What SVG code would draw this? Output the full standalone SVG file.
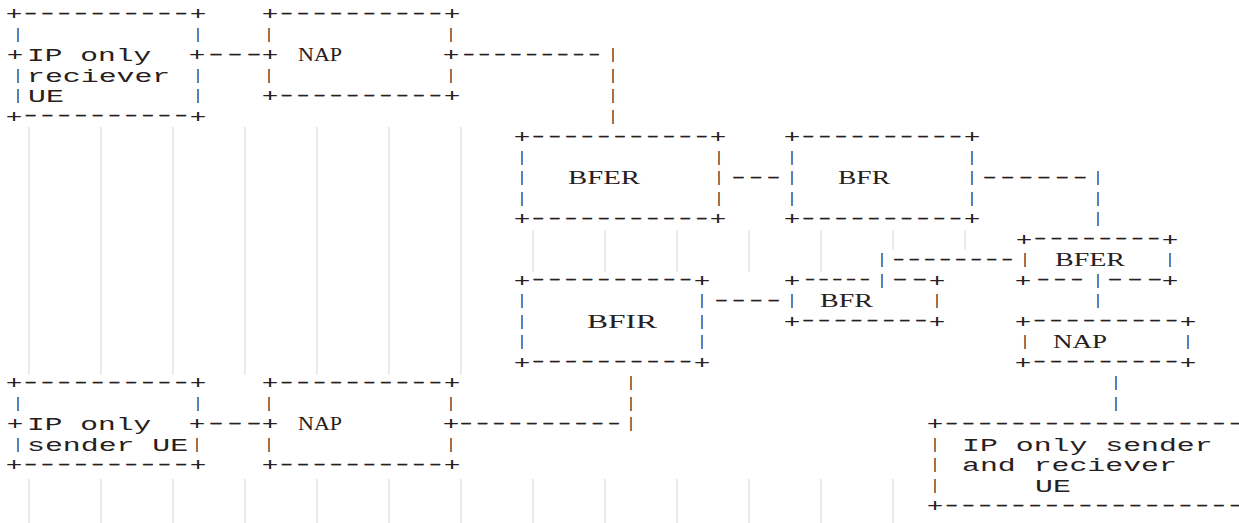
<svg xmlns="http://www.w3.org/2000/svg" width="1239" height="523" viewBox="0 0 1239 523">
  <style>
    .m { font-family: "Liberation Mono", "Courier New", monospace; font-size: 19px; fill: #272020; }
    .d { font-family: "Liberation Sans", Arial, sans-serif; font-size: 15px; letter-spacing: 1.8px; fill: #272020; stroke: #272020; stroke-width: 0.4; }
    .v { font-family: "Liberation Mono", "Courier New", monospace; font-size: 14px; fill: #272020; text-anchor: middle; }
    .s { font-family: "Liberation Serif", "Times New Roman", serif; font-size: 18px; fill: #272020; }
    .rule { stroke: #e4e4e4; stroke-width: 1.5; }
  </style>
  <rect width="1239" height="523" fill="#ffffff"/>

  <!-- faint column rules behind the drawing -->
  <g id="rules" class="rule">
    <line x1="29" y1="127" x2="29" y2="375"/>
    <line x1="101" y1="127" x2="101" y2="375"/>
    <line x1="173" y1="127" x2="173" y2="375"/>
    <line x1="245" y1="127" x2="245" y2="375"/>
    <line x1="317" y1="127" x2="317" y2="375"/>
    <line x1="389" y1="127" x2="389" y2="375"/>
    <line x1="461" y1="127" x2="461" y2="375"/>
    <line x1="533" y1="230" x2="533" y2="272"/>
    <line x1="605" y1="230" x2="605" y2="272"/>
    <line x1="677" y1="230" x2="677" y2="272"/>
    <line x1="749" y1="230" x2="749" y2="272"/>
    <line x1="821" y1="230" x2="821" y2="272"/>
    <line x1="893" y1="230" x2="893" y2="250"/>
    <line x1="965" y1="230" x2="965" y2="250"/>
    <line x1="29" y1="479" x2="29" y2="523"/>
    <line x1="101" y1="479" x2="101" y2="523"/>
    <line x1="173" y1="479" x2="173" y2="523"/>
    <line x1="245" y1="479" x2="245" y2="523"/>
    <line x1="317" y1="479" x2="317" y2="523"/>
    <line x1="389" y1="479" x2="389" y2="523"/>
    <line x1="461" y1="479" x2="461" y2="523"/>
    <line x1="533" y1="479" x2="533" y2="523"/>
    <line x1="605" y1="479" x2="605" y2="523"/>
    <line x1="677" y1="479" x2="677" y2="523"/>
    <line x1="749" y1="479" x2="749" y2="523"/>
    <line x1="821" y1="479" x2="821" y2="523"/>
    <line x1="893" y1="479" x2="893" y2="523"/>
  </g>

  <!-- IP only receiver UE -->
  <g id="ue-receiver">
    <text class="m" x="5.7" y="20" textLength="16.6" lengthAdjust="spacingAndGlyphs">+</text>
    <text class="d" x="24.57" y="17.9" textLength="167.27" lengthAdjust="spacingAndGlyphs">----------</text>
    <text class="m" x="189.7" y="20" textLength="16.6" lengthAdjust="spacingAndGlyphs">+</text>
    <text class="v" x="18" y="38.5">|</text><text class="v" x="198" y="38.5">|</text>
    <text class="m" x="6.7" y="61" textLength="16.6" lengthAdjust="spacingAndGlyphs">+</text>
    <text class="m" x="27.1" y="61" textLength="124.3" lengthAdjust="spacingAndGlyphs">IP only</text>
    <text class="m" x="188.7" y="61" textLength="16.6" lengthAdjust="spacingAndGlyphs">+</text>
    <text class="v" x="18" y="79.5">|</text>
    <text class="m" x="27.05" y="81.5" textLength="143.2" lengthAdjust="spacingAndGlyphs">reciever</text>
    <text class="v" x="198" y="79.5">|</text>
    <text class="v" x="18" y="100">|</text>
    <text class="m" x="28.05" y="102" textLength="35.8" lengthAdjust="spacingAndGlyphs">UE</text>
    <text class="v" x="198" y="100">|</text>
    <text class="m" x="5.7" y="122.5" textLength="16.6" lengthAdjust="spacingAndGlyphs">+</text>
    <text class="d" x="24.57" y="120.4" textLength="167.27" lengthAdjust="spacingAndGlyphs">----------</text>
    <text class="m" x="189.7" y="122.5" textLength="16.6" lengthAdjust="spacingAndGlyphs">+</text>
  </g>

  <!-- NAP serving the receiver -->
  <g id="nap-receiver">
    <text class="m" x="261.7" y="20" textLength="16.6" lengthAdjust="spacingAndGlyphs">+</text>
    <text class="d" x="280.46" y="17.9" textLength="165.45" lengthAdjust="spacingAndGlyphs">----------</text>
    <text class="m" x="443.7" y="20" textLength="16.6" lengthAdjust="spacingAndGlyphs">+</text>
    <text class="v" x="269" y="38.5">|</text><text class="v" x="451" y="38.5">|</text>
    <text class="m" x="261.7" y="61" textLength="16.6" lengthAdjust="spacingAndGlyphs">+</text>
    <text class="s" x="298" y="61" textLength="44" lengthAdjust="spacingAndGlyphs">NAP</text>
    <text class="m" x="442.7" y="61" textLength="16.6" lengthAdjust="spacingAndGlyphs">+</text>
    <text class="v" x="269" y="79.5">|</text><text class="v" x="451" y="79.5">|</text>
    <text class="m" x="261.7" y="102" textLength="16.6" lengthAdjust="spacingAndGlyphs">+</text>
    <text class="d" x="280.46" y="99.9" textLength="165.45" lengthAdjust="spacingAndGlyphs">----------</text>
    <text class="m" x="443.7" y="102" textLength="16.6" lengthAdjust="spacingAndGlyphs">+</text>
  </g>

  <!-- BFER (upper) -->
  <g id="bfer-upper">
    <text class="m" x="513.7" y="143" textLength="16.6" lengthAdjust="spacingAndGlyphs">+</text>
    <text class="d" x="532.33" y="140.9" textLength="179.67" lengthAdjust="spacingAndGlyphs">-----------</text>
    <text class="m" x="709.7" y="143" textLength="16.6" lengthAdjust="spacingAndGlyphs">+</text>
    <text class="v" x="522" y="161.5">|</text><text class="v" x="719" y="161.5">|</text>
    <text class="v" x="522" y="182">|</text>
    <text class="s" x="568" y="184" textLength="72" lengthAdjust="spacingAndGlyphs">BFER</text>
    <text class="v" x="719" y="182">|</text>
    <text class="v" x="522" y="202.5">|</text><text class="v" x="719" y="202.5">|</text>
    <text class="m" x="513.7" y="225" textLength="16.6" lengthAdjust="spacingAndGlyphs">+</text>
    <text class="d" x="532.33" y="222.9" textLength="179.67" lengthAdjust="spacingAndGlyphs">-----------</text>
    <text class="m" x="709.7" y="225" textLength="16.6" lengthAdjust="spacingAndGlyphs">+</text>
  </g>

  <!-- BFR (upper) -->
  <g id="bfr-upper">
    <text class="m" x="783.7" y="143" textLength="16.6" lengthAdjust="spacingAndGlyphs">+</text>
    <text class="d" x="802.35" y="140.9" textLength="163.64" lengthAdjust="spacingAndGlyphs">----------</text>
    <text class="m" x="963.7" y="143" textLength="16.6" lengthAdjust="spacingAndGlyphs">+</text>
    <text class="v" x="792" y="161.5">|</text><text class="v" x="972" y="161.5">|</text>
    <text class="v" x="792" y="182">|</text>
    <text class="s" x="838" y="184" textLength="52" lengthAdjust="spacingAndGlyphs">BFR</text>
    <text class="v" x="972" y="182">|</text>
    <text class="v" x="792" y="202.5">|</text><text class="v" x="972" y="202.5">|</text>
    <text class="m" x="783.7" y="225" textLength="16.6" lengthAdjust="spacingAndGlyphs">+</text>
    <text class="d" x="802.35" y="222.9" textLength="163.64" lengthAdjust="spacingAndGlyphs">----------</text>
    <text class="m" x="963.7" y="225" textLength="16.6" lengthAdjust="spacingAndGlyphs">+</text>
  </g>

  <!-- BFER (right) -->
  <g id="bfer-right">
    <text class="m" x="1015.7" y="245.5" textLength="16.6" lengthAdjust="spacingAndGlyphs">+</text>
    <text class="d" x="1034.25" y="243.4" textLength="129.8" lengthAdjust="spacingAndGlyphs">--------</text>
    <text class="m" x="1161.7" y="245.5" textLength="16.6" lengthAdjust="spacingAndGlyphs">+</text>
    <text class="v" x="1025" y="264">|</text>
    <text class="s" x="1055" y="266" textLength="70" lengthAdjust="spacingAndGlyphs">BFER</text>
    <text class="v" x="1170" y="264">|</text>
    <text class="m" x="1014.7" y="286.5" textLength="16.6" lengthAdjust="spacingAndGlyphs">+</text>
    <text class="d" x="1037.03" y="284.4" textLength="50.5" lengthAdjust="spacingAndGlyphs">---</text>
    <text class="d" x="1107.9" y="284.4" textLength="59.3" lengthAdjust="spacingAndGlyphs">---</text>
    <text class="m" x="1161.7" y="286.5" textLength="16.6" lengthAdjust="spacingAndGlyphs">+</text>
  </g>

  <!-- BFIR -->
  <g id="bfir">
    <text class="m" x="513.7" y="286.5" textLength="16.6" lengthAdjust="spacingAndGlyphs">+</text>
    <text class="d" x="532.35" y="284.4" textLength="163.64" lengthAdjust="spacingAndGlyphs">----------</text>
    <text class="m" x="693.7" y="286.5" textLength="16.6" lengthAdjust="spacingAndGlyphs">+</text>
    <text class="v" x="522" y="305">|</text><text class="v" x="702" y="305">|</text>
    <text class="v" x="522" y="325.5">|</text>
    <text class="s" x="587" y="327.5" textLength="70" lengthAdjust="spacingAndGlyphs">BFIR</text>
    <text class="v" x="702" y="325.5">|</text>
    <text class="v" x="522" y="346">|</text><text class="v" x="702" y="346">|</text>
    <text class="m" x="513.7" y="368.5" textLength="16.6" lengthAdjust="spacingAndGlyphs">+</text>
    <text class="d" x="532.35" y="366.4" textLength="163.64" lengthAdjust="spacingAndGlyphs">----------</text>
    <text class="m" x="693.7" y="368.5" textLength="16.6" lengthAdjust="spacingAndGlyphs">+</text>
  </g>

  <!-- BFR (lower) -->
  <g id="bfr-lower">
    <text class="m" x="783.7" y="286.5" textLength="16.6" lengthAdjust="spacingAndGlyphs">+</text>
    <text class="d" x="804.9" y="284.4" textLength="68.7" lengthAdjust="spacingAndGlyphs">-----</text>
    <text class="d" x="892.9" y="284.4" textLength="39.3" lengthAdjust="spacingAndGlyphs">--</text>
    <text class="m" x="928.7" y="286.5" textLength="16.6" lengthAdjust="spacingAndGlyphs">+</text>
    <text class="v" x="792" y="305">|</text>
    <text class="s" x="820" y="307" textLength="53" lengthAdjust="spacingAndGlyphs">BFR</text>
    <text class="v" x="937" y="305">|</text>
    <text class="m" x="783.7" y="327.5" textLength="16.6" lengthAdjust="spacingAndGlyphs">+</text>
    <text class="d" x="802.19" y="325.4" textLength="128.9" lengthAdjust="spacingAndGlyphs">--------</text>
    <text class="m" x="928.7" y="327.5" textLength="16.6" lengthAdjust="spacingAndGlyphs">+</text>
  </g>

  <!-- NAP serving the sender and receiver -->
  <g id="nap-sender-receiver">
    <text class="m" x="1014.7" y="327.5" textLength="16.6" lengthAdjust="spacingAndGlyphs">+</text>
    <text class="d" x="1033.43" y="325.4" textLength="148.5" lengthAdjust="spacingAndGlyphs">---------</text>
    <text class="m" x="1179.7" y="327.5" textLength="16.6" lengthAdjust="spacingAndGlyphs">+</text>
    <text class="v" x="1025" y="346">|</text>
    <text class="s" x="1053" y="348" textLength="54" lengthAdjust="spacingAndGlyphs">NAP</text>
    <text class="v" x="1188" y="346">|</text>
    <text class="m" x="1014.7" y="368.5" textLength="16.6" lengthAdjust="spacingAndGlyphs">+</text>
    <text class="d" x="1033.43" y="366.4" textLength="148.5" lengthAdjust="spacingAndGlyphs">---------</text>
    <text class="m" x="1179.7" y="368.5" textLength="16.6" lengthAdjust="spacingAndGlyphs">+</text>
  </g>

  <!-- IP only sender UE -->
  <g id="ue-sender">
    <text class="m" x="5.7" y="389" textLength="16.6" lengthAdjust="spacingAndGlyphs">+</text>
    <text class="d" x="24.57" y="386.9" textLength="167.27" lengthAdjust="spacingAndGlyphs">----------</text>
    <text class="m" x="189.7" y="389" textLength="16.6" lengthAdjust="spacingAndGlyphs">+</text>
    <text class="v" x="18" y="407.5">|</text><text class="v" x="198" y="407.5">|</text>
    <text class="m" x="6.7" y="430" textLength="16.6" lengthAdjust="spacingAndGlyphs">+</text>
    <text class="m" x="27.1" y="430" textLength="124.3" lengthAdjust="spacingAndGlyphs">IP only</text>
    <text class="m" x="188.7" y="430" textLength="16.6" lengthAdjust="spacingAndGlyphs">+</text>
    <text class="v" x="18" y="448.5">|</text>
    <text class="m" x="27.05" y="450.5" textLength="161.1" lengthAdjust="spacingAndGlyphs">sender UE</text>
    <text class="v" x="197" y="448.5">|</text>
    <text class="m" x="5.7" y="471" textLength="16.6" lengthAdjust="spacingAndGlyphs">+</text>
    <text class="d" x="24.57" y="468.9" textLength="167.27" lengthAdjust="spacingAndGlyphs">----------</text>
    <text class="m" x="189.7" y="471" textLength="16.6" lengthAdjust="spacingAndGlyphs">+</text>
  </g>

  <!-- NAP serving the sender -->
  <g id="nap-sender">
    <text class="m" x="261.7" y="389" textLength="16.6" lengthAdjust="spacingAndGlyphs">+</text>
    <text class="d" x="280.46" y="386.9" textLength="165.45" lengthAdjust="spacingAndGlyphs">----------</text>
    <text class="m" x="443.7" y="389" textLength="16.6" lengthAdjust="spacingAndGlyphs">+</text>
    <text class="v" x="269" y="407.5">|</text><text class="v" x="451" y="407.5">|</text>
    <text class="m" x="261.7" y="430" textLength="16.6" lengthAdjust="spacingAndGlyphs">+</text>
    <text class="s" x="298" y="430" textLength="44" lengthAdjust="spacingAndGlyphs">NAP</text>
    <text class="m" x="442.7" y="430" textLength="16.6" lengthAdjust="spacingAndGlyphs">+</text>
    <text class="v" x="269" y="448.5">|</text><text class="v" x="451" y="448.5">|</text>
    <text class="m" x="261.7" y="471" textLength="16.6" lengthAdjust="spacingAndGlyphs">+</text>
    <text class="d" x="280.46" y="468.9" textLength="165.45" lengthAdjust="spacingAndGlyphs">----------</text>
    <text class="m" x="443.7" y="471" textLength="16.6" lengthAdjust="spacingAndGlyphs">+</text>
  </g>

  <!-- IP only sender and receiver UE (runs off the right edge) -->
  <g id="ue-sender-receiver">
    <text class="m" x="926.7" y="430" textLength="16.6" lengthAdjust="spacingAndGlyphs">+</text>
    <text class="d" x="945.56" y="427.9" textLength="317.3" lengthAdjust="spacingAndGlyphs">-------------------</text>
    <text class="v" x="935" y="448.5">|</text>
    <text class="m" x="962.05" y="450.5" textLength="250.6" lengthAdjust="spacingAndGlyphs">IP only sender</text>
    <text class="v" x="935" y="469">|</text>
    <text class="m" x="962.05" y="471" textLength="214.8" lengthAdjust="spacingAndGlyphs">and reciever</text>
    <text class="v" x="935" y="489.5">|</text>
    <text class="m" x="1035" y="491.5" textLength="35.8" lengthAdjust="spacingAndGlyphs">UE</text>
    <text class="m" x="926.7" y="512" textLength="16.6" lengthAdjust="spacingAndGlyphs">+</text>
    <text class="d" x="945.56" y="509.9" textLength="317.3" lengthAdjust="spacingAndGlyphs">-------------------</text>
  </g>

  <!-- links between the boxes -->
  <g id="connectors">
    <!-- receiver UE to its NAP -->
    <text class="d" x="209.02" y="58.9" textLength="57" lengthAdjust="spacingAndGlyphs">---</text>
    <!-- receiver NAP down to upper BFER -->
    <text class="d" x="462.93" y="58.9" textLength="141.3" lengthAdjust="spacingAndGlyphs">---------</text>
    <text class="v" x="613" y="59">|</text>
    <text class="v" x="613" y="79.5">|</text>
    <text class="v" x="613" y="100">|</text>
    <text class="v" x="613" y="120.5">|</text>
    <!-- upper BFER to upper BFR -->
    <text class="d" x="731.93" y="181.9" textLength="52.8" lengthAdjust="spacingAndGlyphs">---</text>
    <!-- upper BFR down to right BFER -->
    <text class="d" x="982.9" y="181.9" textLength="108.9" lengthAdjust="spacingAndGlyphs">------</text>
    <text class="v" x="1098" y="182">|</text>
    <text class="v" x="1098" y="202.5">|</text>
    <text class="v" x="1098" y="223">|</text>
    <!-- lower BFR up to right BFER -->
    <text class="v" x="882" y="264">|</text>
    <text class="d" x="892.95" y="263.9" textLength="124" lengthAdjust="spacingAndGlyphs">--------</text>
    <text class="v" x="882" y="284.5">|</text>
    <!-- right BFER down to its NAP -->
    <text class="v" x="1098" y="284.5">|</text>
    <text class="v" x="1098" y="305">|</text>
    <!-- BFIR to lower BFR -->
    <text class="d" x="714.9" y="304.9" textLength="69.7" lengthAdjust="spacingAndGlyphs">----</text>
    <!-- NAP down to sender and receiver UE -->
    <text class="v" x="1116" y="387">|</text>
    <text class="v" x="1116" y="407.5">|</text>
    <!-- BFIR down to sender NAP -->
    <text class="v" x="631" y="387">|</text>
    <text class="v" x="631" y="407.5">|</text>
    <text class="v" x="631" y="428">|</text>
    <text class="d" x="459.98" y="427.9" textLength="164.4" lengthAdjust="spacingAndGlyphs">----------</text>
    <!-- sender UE to its NAP -->
    <text class="d" x="209.02" y="427.9" textLength="57" lengthAdjust="spacingAndGlyphs">---</text>
  </g>
</svg>
